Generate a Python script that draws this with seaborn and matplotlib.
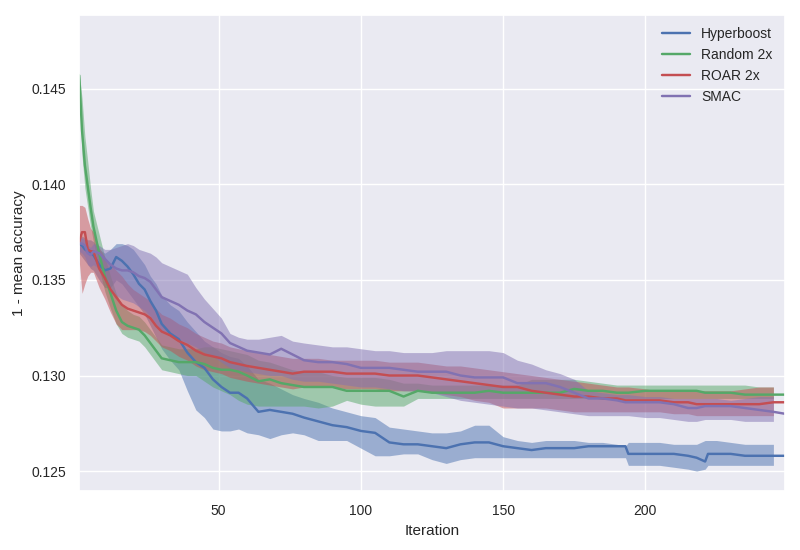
import numpy as np
import pandas as pd
import matplotlib
matplotlib.use("Agg")
import matplotlib.pyplot as plt
import seaborn as sns

# ---------------------------------------------------------
# data (read off the reference, sampled iterations)
# ---------------------------------------------------------
iterations = [1, 2, 3, 4, 5, 6,
              8, 10, 12, 14, 16, 18, 20, 22, 24, 26, 28, 30,
              33, 36, 39, 42, 45, 48, 51, 54, 57, 60,
              64, 68, 72, 76, 80,
              85, 90, 95, 100, 105, 110, 115, 120, 125, 130, 135,
              140, 145, 150, 155, 160, 165, 170, 175, 180, 185, 190,
              193, 194, 200, 205, 210, 215, 218, 221, 222,
              225, 230, 235, 240, 245, 249]

methods = ["Hyperboost", "Random 2x", "ROAR 2x", "SMAC"]

hyperboost_mean = [0.1369, 0.1368, 0.1366, 0.1365, 0.1364, 0.1363,
                   0.1358, 0.1355, 0.1356, 0.1362, 0.1360, 0.1357, 0.1353, 0.1348, 0.1345, 0.1339, 0.1334, 0.1327,
                   0.1322, 0.1319, 0.1312, 0.1307, 0.1304, 0.1298, 0.1294, 0.1291, 0.1291, 0.1288,
                   0.1281, 0.1282, 0.1281, 0.1280, 0.1278,
                   0.1276, 0.1274, 0.1273, 0.1271, 0.1270, 0.1265, 0.1264, 0.1264, 0.1263, 0.1262, 0.1264,
                   0.1265, 0.1265, 0.1263, 0.1262, 0.1261, 0.1262, 0.1262, 0.1262, 0.1263, 0.1263, 0.1263,
                   0.1263, 0.1259, 0.1259, 0.1259, 0.1259, 0.1258, 0.1257, 0.1255, 0.1259,
                   0.1259, 0.1259, 0.1258, 0.1258, 0.1258, 0.1258]
hyperboost_lo = [0.1364, 0.1362, 0.1360, 0.1358, 0.1356, 0.1355,
                 0.1350, 0.1346, 0.1346, 0.1350, 0.1348, 0.1344, 0.1340, 0.1336, 0.1332, 0.1326, 0.1320, 0.1314,
                 0.1308, 0.1303, 0.1292, 0.1282, 0.1278, 0.1272, 0.1271, 0.1271, 0.1272, 0.1270,
                 0.1269, 0.1267, 0.1269, 0.1270, 0.1269,
                 0.1266, 0.1266, 0.1266, 0.1262, 0.1258, 0.1258, 0.1259, 0.1259, 0.1256, 0.1254, 0.1256,
                 0.1257, 0.1257, 0.1257, 0.1257, 0.1257, 0.1257, 0.1257, 0.1257, 0.1257, 0.1257, 0.1257,
                 0.1257, 0.1253, 0.1253, 0.1253, 0.1252, 0.1251, 0.1250, 0.1251, 0.1253,
                 0.1253, 0.1253, 0.1253, 0.1253, 0.1253, 0.1253]
hyperboost_hi = [0.1372, 0.1373, 0.1372, 0.1371, 0.1371, 0.1370,
                 0.1366, 0.1364, 0.1366, 0.1369, 0.1369, 0.1368, 0.1366, 0.1362, 0.1358, 0.1352, 0.1348, 0.1342,
                 0.1337, 0.1334, 0.1328, 0.1323, 0.1318, 0.1315, 0.1312, 0.1310, 0.1309, 0.1305,
                 0.1298, 0.1296, 0.1293, 0.1290, 0.1288,
                 0.1286, 0.1283, 0.1281, 0.1279, 0.1278, 0.1273, 0.1272, 0.1271, 0.1270, 0.1270, 0.1271,
                 0.1274, 0.1274, 0.1268, 0.1266, 0.1265, 0.1266, 0.1266, 0.1266, 0.1265, 0.1265, 0.1264,
                 0.1263, 0.1265, 0.1265, 0.1265, 0.1264, 0.1264, 0.1264, 0.1266, 0.1266,
                 0.1266, 0.1265, 0.1264, 0.1264, 0.1264, 0.1264]

random_mean = [0.1457, 0.1428, 0.1410, 0.1399, 0.1388, 0.1378,
               0.1364, 0.1352, 0.1343, 0.1334, 0.1328, 0.1326, 0.1325, 0.1324, 0.1321, 0.1317, 0.1313, 0.1309,
               0.1308, 0.1307, 0.1307, 0.1307, 0.1306, 0.1304, 0.1303, 0.1303, 0.1302, 0.1300,
               0.1297, 0.1298, 0.1296, 0.1295, 0.1294,
               0.1294, 0.1294, 0.1292, 0.1292, 0.1292, 0.1292, 0.1289, 0.1292, 0.1291, 0.1291, 0.1291,
               0.1291, 0.1292, 0.1291, 0.1291, 0.1291, 0.1291, 0.1291, 0.1293, 0.1292, 0.1292, 0.1291,
               0.1291, 0.1291, 0.1292, 0.1292, 0.1292, 0.1292, 0.1292, 0.1291, 0.1291,
               0.1291, 0.1291, 0.1290, 0.1290, 0.1290, 0.1290]
random_lo = [0.1452, 0.1415, 0.1398, 0.1388, 0.1378, 0.1370,
             0.1356, 0.1344, 0.1335, 0.1327, 0.1322, 0.1320, 0.1319, 0.1318, 0.1315, 0.1311, 0.1307, 0.1303,
             0.1302, 0.1301, 0.1300, 0.1300, 0.1297, 0.1294, 0.1292, 0.1290, 0.1287, 0.1285,
             0.1284, 0.1284, 0.1284, 0.1284, 0.1284,
             0.1283, 0.1284, 0.1287, 0.1285, 0.1284, 0.1284, 0.1284, 0.1288, 0.1288, 0.1288, 0.1288,
             0.1288, 0.1288, 0.1288, 0.1288, 0.1288, 0.1288, 0.1288, 0.1288, 0.1288, 0.1288, 0.1288,
             0.1288, 0.1288, 0.1288, 0.1288, 0.1288, 0.1288, 0.1288, 0.1288, 0.1288,
             0.1288, 0.1288, 0.1288, 0.1288, 0.1288, 0.1288]
random_hi = [0.1459, 0.1445, 0.1425, 0.1412, 0.1398, 0.1386,
             0.1374, 0.1362, 0.1352, 0.1343, 0.1337, 0.1334, 0.1332, 0.1331, 0.1328, 0.1324, 0.1320, 0.1316,
             0.1315, 0.1314, 0.1314, 0.1314, 0.1315, 0.1315, 0.1314, 0.1313, 0.1312, 0.1311,
             0.1308, 0.1307, 0.1305, 0.1303, 0.1302,
             0.1302, 0.1300, 0.1299, 0.1299, 0.1299, 0.1298, 0.1296, 0.1296, 0.1295, 0.1295, 0.1295,
             0.1295, 0.1295, 0.1295, 0.1295, 0.1298, 0.1298, 0.1298, 0.1298, 0.1297, 0.1296, 0.1295,
             0.1295, 0.1295, 0.1295, 0.1295, 0.1295, 0.1295, 0.1295, 0.1295, 0.1295,
             0.1295, 0.1295, 0.1295, 0.1294, 0.1294, 0.1294]

roar_mean = [0.1370, 0.1375, 0.1375, 0.1366, 0.1365, 0.1365,
             0.1356, 0.1351, 0.1345, 0.1341, 0.1337, 0.1335, 0.1334, 0.1333, 0.1332, 0.1330, 0.1326, 0.1323,
             0.1321, 0.1318, 0.1316, 0.1313, 0.1311, 0.1310, 0.1309, 0.1307, 0.1306, 0.1305,
             0.1304, 0.1303, 0.1302, 0.1301, 0.1302,
             0.1302, 0.1302, 0.1301, 0.1301, 0.1301, 0.1300, 0.1300, 0.1300, 0.1299, 0.1298, 0.1297,
             0.1296, 0.1295, 0.1294, 0.1294, 0.1292, 0.1291, 0.1290, 0.1289, 0.1289, 0.1288, 0.1288,
             0.1287, 0.1287, 0.1287, 0.1287, 0.1286, 0.1286, 0.1285, 0.1285, 0.1285,
             0.1285, 0.1285, 0.1285, 0.1285, 0.1286, 0.1286]
roar_lo = [0.1360, 0.1343, 0.1348, 0.1352, 0.1354, 0.1354,
           0.1346, 0.1340, 0.1333, 0.1327, 0.1324, 0.1324, 0.1324, 0.1324, 0.1323, 0.1321, 0.1318, 0.1315,
           0.1313, 0.1310, 0.1308, 0.1305, 0.1303, 0.1302, 0.1301, 0.1299, 0.1298, 0.1297,
           0.1296, 0.1295, 0.1294, 0.1293, 0.1294,
           0.1294, 0.1294, 0.1293, 0.1293, 0.1293, 0.1292, 0.1292, 0.1292, 0.1291, 0.1290, 0.1289,
           0.1287, 0.1286, 0.1283, 0.1283, 0.1283, 0.1283, 0.1282, 0.1281, 0.1281, 0.1281, 0.1281,
           0.1281, 0.1281, 0.1281, 0.1281, 0.1280, 0.1280, 0.1279, 0.1279, 0.1279,
           0.1279, 0.1279, 0.1279, 0.1279, 0.1279, 0.1279]
roar_hi = [0.1389, 0.1389, 0.1388, 0.1382, 0.1377, 0.1375,
           0.1367, 0.1362, 0.1358, 0.1355, 0.1352, 0.1348, 0.1345, 0.1343, 0.1341, 0.1339, 0.1335, 0.1332,
           0.1330, 0.1327, 0.1325, 0.1322, 0.1320, 0.1318, 0.1317, 0.1315, 0.1314, 0.1313,
           0.1312, 0.1311, 0.1310, 0.1309, 0.1309,
           0.1309, 0.1308, 0.1308, 0.1308, 0.1308, 0.1307, 0.1307, 0.1307, 0.1306, 0.1305, 0.1305,
           0.1304, 0.1303, 0.1302, 0.1301, 0.1300, 0.1299, 0.1298, 0.1297, 0.1296, 0.1295, 0.1294,
           0.1294, 0.1294, 0.1293, 0.1292, 0.1292, 0.1292, 0.1292, 0.1292, 0.1292,
           0.1292, 0.1292, 0.1293, 0.1294, 0.1294, 0.1294]

smac_mean = [0.1369, 0.1369, 0.1368, 0.1364, 0.1363, 0.1365,
             0.1364, 0.1361, 0.1358, 0.1356, 0.1355, 0.1355, 0.1354, 0.1352, 0.1351, 0.1349, 0.1345, 0.1341,
             0.1339, 0.1337, 0.1334, 0.1332, 0.1328, 0.1325, 0.1322, 0.1317, 0.1315, 0.1313,
             0.1312, 0.1311, 0.1314, 0.1311, 0.1308,
             0.1307, 0.1307, 0.1306, 0.1304, 0.1304, 0.1304, 0.1303, 0.1302, 0.1302, 0.1302, 0.1300,
             0.1299, 0.1299, 0.1299, 0.1296, 0.1296, 0.1296, 0.1294, 0.1291, 0.1288, 0.1288, 0.1287,
             0.1286, 0.1286, 0.1286, 0.1286, 0.1285, 0.1283, 0.1283, 0.1284, 0.1284,
             0.1284, 0.1284, 0.1283, 0.1282, 0.1281, 0.1280]
smac_lo = [0.1365, 0.1364, 0.1362, 0.1358, 0.1357, 0.1358,
           0.1356, 0.1350, 0.1345, 0.1342, 0.1340, 0.1339, 0.1338, 0.1336, 0.1334, 0.1331, 0.1327, 0.1323,
           0.1321, 0.1319, 0.1317, 0.1315, 0.1312, 0.1310, 0.1307, 0.1304, 0.1303, 0.1302,
           0.1301, 0.1300, 0.1300, 0.1298, 0.1297,
           0.1297, 0.1296, 0.1295, 0.1294, 0.1294, 0.1293, 0.1292, 0.1292, 0.1291, 0.1289, 0.1287,
           0.1286, 0.1285, 0.1284, 0.1283, 0.1283, 0.1282, 0.1281, 0.1280, 0.1279, 0.1279, 0.1279,
           0.1279, 0.1279, 0.1278, 0.1278, 0.1277, 0.1276, 0.1276, 0.1277, 0.1277,
           0.1277, 0.1277, 0.1276, 0.1276, 0.1276, 0.1276]
smac_hi = [0.1372, 0.1372, 0.1371, 0.1368, 0.1367, 0.1369,
           0.1368, 0.1366, 0.1366, 0.1367, 0.1368, 0.1369, 0.1368, 0.1366, 0.1365, 0.1364, 0.1362, 0.1359,
           0.1357, 0.1355, 0.1353, 0.1346, 0.1340, 0.1335, 0.1330, 0.1322, 0.1320, 0.1319,
           0.1319, 0.1320, 0.1321, 0.1318, 0.1317,
           0.1316, 0.1315, 0.1315, 0.1314, 0.1313, 0.1313, 0.1312, 0.1312, 0.1312, 0.1313, 0.1313,
           0.1313, 0.1313, 0.1312, 0.1308, 0.1306, 0.1303, 0.1301, 0.1298, 0.1292, 0.1291, 0.1290,
           0.1290, 0.1290, 0.1289, 0.1289, 0.1288, 0.1288, 0.1288, 0.1288, 0.1288,
           0.1288, 0.1287, 0.1288, 0.1289, 0.1289, 0.1289]

colors = ["#4C72B0", "#55A868", "#C44E52", "#8172B2"]

series = {
    "Hyperboost": (hyperboost_mean, hyperboost_lo, hyperboost_hi),
    "Random 2x": (random_mean, random_lo, random_hi),
    "ROAR 2x": (roar_mean, roar_lo, roar_hi),
    "SMAC": (smac_mean, smac_lo, smac_hi),
}
for name, arrs in series.items():
    for a in arrs:
        assert len(a) == len(iterations), (name, len(a))

rows = []
for name in methods:
    m, lo, hi = series[name]
    for it, v, l, h in zip(iterations, m, lo, hi):
        rows.append({"Iteration": it, "value": v, "lo": l, "hi": h, "method": name})
df = pd.DataFrame(rows)

# ---------------------------------------------------------
# style
# ---------------------------------------------------------
sns.set_theme(style="darkgrid", rc={
    "axes.facecolor": "#EAEAF2",
    "xtick.labelsize": 10,
    "ytick.labelsize": 10,
    "axes.labelsize": 11,
    "legend.fontsize": 10,
    "lines.linewidth": 1.75,
})
plt.rcParams["font.family"] = ["Liberation Sans", "DejaVu Sans"]

fig, ax = plt.subplots(figsize=(8, 5.5), dpi=100)
fig.subplots_adjust(left=0.099, right=0.981, top=0.973, bottom=0.107)

for name, col in zip(methods, colors):
    d = df[df["method"] == name]
    sns.lineplot(data=d, x="Iteration", y="value", color=col, label=name,
                 errorbar=None, sort=False, ax=ax, linewidth=1.75)
    # band stops one step short of the line, like the reference
    ax.fill_between(d["Iteration"].values[:-1], d["lo"].values[:-1], d["hi"].values[:-1],
                    color=col, alpha=0.5, linewidth=0)

ax.set_xlim(1, 249)
ax.set_ylim(0.12395, 0.14887)
ax.set_xticks([50, 100, 150, 200])
ax.set_yticks([0.125, 0.130, 0.135, 0.140, 0.145])
ax.set_xlabel("Iteration")
ax.set_ylabel("1 - mean accuracy")
ax.tick_params(colors="#262626")

leg = ax.legend(loc="upper right", frameon=False)

fig.savefig("out.png", dpi=100)
